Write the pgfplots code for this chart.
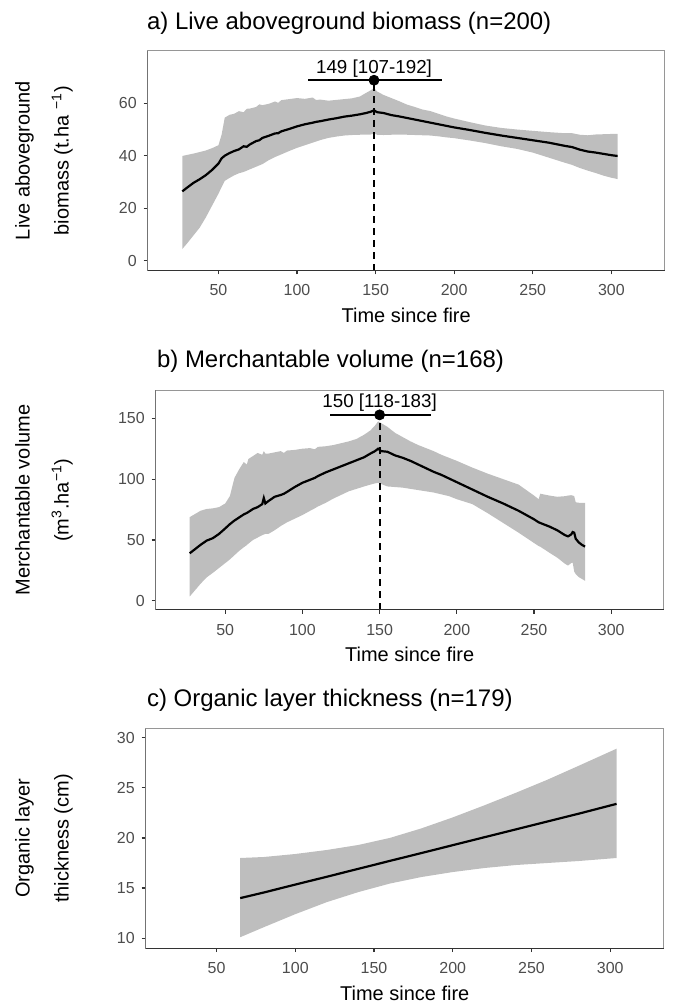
\documentclass[border=0pt]{standalone}
\usepackage{pgfplots}
\pgfplotsset{compat=1.18}
\usepackage{pgfplotstable}
\usepgfplotslibrary{fillbetween}
\usepackage{fontspec}
\setmainfont{Liberation Sans}

\definecolor{band}{RGB}{190,190,190}
\definecolor{tickgrey}{RGB}{77,77,77}
\definecolor{framegrey}{RGB}{150,150,150}
\definecolor{axisdark}{RGB}{51,51,51}

% a) live aboveground biomass: x, lower, mean, upper
\pgfplotstableread{
x lo mid hi
27 4.4 26.4 39.9
30 6.5 27.8 40.3
34 9.5 29.6 40.8
38 12.5 31.0 41.4
42 16.5 32.6 42.0
46 21.0 34.6 42.9
50 25.5 37.0 44.0
52 28.0 39.0 48.0
54 30.4 40.0 54.5
57 31.5 41.0 55.6
60 32.5 41.8 56.0
63 33.3 42.4 57.0
66 33.8 43.6 56.6
68 34.3 43.4 57.9
70 34.8 44.3 58.0
74 35.8 45.6 58.6
76 36.3 45.9 59.6
78 36.8 46.8 59.3
82 38.3 47.6 59.8
86 39.5 48.5 60.7
88 40.0 48.6 60.2
90 40.5 49.3 61.2
95 41.8 50.2 61.6
100 43.0 51.2 62.0
105 44.0 52.0 61.7
110 45.0 52.6 62.2
112 45.4 52.9 61.3
115 46.0 53.2 61.4
120 46.8 53.8 61.0
125 47.3 54.3 61.3
130 47.7 54.9 61.6
135 47.9 55.3 61.9
140 48.0 55.8 62.6
144 48.0 56.3 64.0
147 48.1 56.8 65.0
149 48.5 57.3 65.8
151 48.0 56.6 64.5
155 47.9 56.3 63.2
160 48.0 55.5 62.0
165 48.0 55.0 60.8
170 48.0 54.4 59.5
175 47.9 53.8 58.6
180 47.8 53.2 57.6
185 47.7 52.6 57.0
190 47.4 52.0 56.0
195 47.0 51.4 55.0
200 46.7 50.8 54.2
210 45.8 49.8 52.8
220 44.8 48.7 51.5
230 43.6 47.7 50.6
240 42.6 46.8 50.0
250 41.2 45.9 49.5
260 39.3 45.0 49.0
270 37.4 43.8 48.6
275 36.5 43.3 48.6
280 35.3 42.3 48.0
285 34.3 41.6 47.8
290 33.4 41.2 48.1
295 32.4 40.7 48.2
300 31.6 40.2 48.3
304 31.1 39.9 48.3
}\tabA

% b) merchantable volume
\pgfplotstableread{
x lo mid hi
27 3.6 39.1 68.8
30 8.0 42.0 71.0
34 14.0 46.0 74.0
38 19.3 49.5 75.5
42 23.0 51.5 76.0
46 27.0 55.0 77.0
50 31.0 59.5 80.0
53 34.0 63.0 86.0
56 37.5 66.0 101.0
59 41.0 68.5 108.0
62 44.0 71.0 114.0
64 45.8 72.2 112.0
65 47.0 73.0 116.5
68 50.0 75.5 119.0
71 52.0 77.0 121.5
74 54.0 79.5 120.0
75 54.5 84.5 123.0
76 55.0 80.0 121.0
78 55.0 82.0 121.0
82 58.0 85.5 122.0
86 61.5 87.0 123.0
88 63.0 88.0 121.5
90 64.5 89.5 123.5
95 67.5 93.5 124.0
100 70.5 97.0 125.0
105 74.0 99.5 125.5
108 76.0 101.0 124.5
110 77.5 102.5 126.5
115 80.5 105.5 127.0
120 84.0 108.0 128.0
125 87.0 110.5 129.5
130 90.0 113.0 131.0
135 92.0 115.5 133.0
140 94.0 118.0 136.5
144 95.5 121.0 140.0
147 96.5 123.0 144.0
149 97.0 125.0 147.5
151 96.0 123.0 146.0
155 94.0 122.5 143.0
160 93.5 119.5 138.0
165 93.0 117.5 134.5
170 92.0 115.0 131.0
175 91.0 112.0 128.0
180 90.0 109.0 125.5
185 89.0 106.0 123.0
190 87.5 103.5 120.0
195 86.0 100.5 117.5
200 83.5 97.5 115.0
210 79.5 91.5 109.5
220 72.0 85.5 104.5
230 64.0 80.0 100.0
240 56.0 74.0 95.5
250 47.5 67.0 86.5
253 45.0 64.5 83.5
254 44.5 64.0 88.0
260 39.5 61.0 86.5
265 35.5 58.0 85.5
270 30.5 54.0 86.0
272 29.0 53.0 86.5
274 31.0 54.5 86.8
275 31.5 56.5 86.5
276 24.0 56.0 86.0
277 22.0 51.0 81.0
279 19.5 48.0 80.6
281 18.0 46.0 80.6
283 16.5 44.6 80.6
}\tabB

% c) organic layer thickness
\pgfplotstableread{
x lo mid hi
65 10.1 14.00 18.0
80 11.1 14.56 18.1
100 12.4 15.35 18.4
120 13.6 16.13 18.8
140 14.6 16.92 19.3
160 15.45 17.71 20.0
180 16.1 18.49 20.95
200 16.6 19.28 22.05
220 17.0 20.07 23.25
240 17.3 20.85 24.5
260 17.5 21.64 25.8
280 17.7 22.42 27.2
304 18.0 23.40 28.9
}\tabC

\pgfplotsset{
  panel/.style={
    scale only axis,
    height=110pt,
    anchor=south west,
    xmin=5, xmax=334,
    xtick={50,100,150,200,250,300},
    tick align=outside,
    major tick length=2pt,
    xtick pos=bottom, ytick pos=left,
    axis line style={framegrey, line width=0.5pt},
    every tick/.style={axisdark, line width=0.6pt},
    tick label style={font=\fontsize{8}{9}\selectfont, text=tickgrey},
    xticklabel style={yshift=-1.5pt},
    /pgf/number format/assume math mode=true,
    xlabel={Time since fire},
    xlabel style={font=\fontsize{10}{12}\selectfont, at={(axis description cs:0.5,0)}, anchor=base, yshift=-26pt},
  },
  meanline/.style={black, line width=1.1pt},
}
\tikzset{
  ytitle/.style={rotate=90, align=center, font=\fontsize{10}{19.5}\selectfont},
  ptitle/.style={anchor=base west, inner sep=0pt, font=\fontsize{12}{14}\selectfont},
  optlabel/.style={anchor=base, font=\fontsize{9.4}{11}\selectfont},
}

\begin{document}
\begin{tikzpicture}
\path (0,0) rectangle (338pt,503.5pt);

% ---------- a) ----------
\begin{axis}[panel, at={(74pt,368pt)}, width=259pt, ymin=-3.8, ymax=80, ytick={0,20,40,60}]
\addplot[name path=hiA, draw=none] table[x=x, y=hi] {\tabA};
\addplot[name path=loA, draw=none] table[x=x, y=lo] {\tabA};
\addplot[band, draw=none] fill between[of=hiA and loA];
\addplot[meanline] table[x=x, y=mid] {\tabA};
\addplot[black, line width=1pt, dash pattern=on 3.5pt off 2.5pt] coordinates {(149,-3.8) (149,68.8)};
\addplot[black, line width=1pt] coordinates {(107,68.8) (192,68.8)};
\addplot[only marks, mark=*, mark size=2.5pt, black] coordinates {(149,68.8)};
\node[optlabel] at (axis cs:149,71.5) {149 [107-192]};
\draw[axisdark, line width=0.7pt] (rel axis cs:0,1) -- (rel axis cs:0,0) -- (rel axis cs:1,0);
\end{axis}

% ---------- b) ----------
\begin{axis}[panel, at={(78pt,198pt)}, width=254.5pt, ymin=-7.4, ymax=173, ytick={0,50,100,150}]
\addplot[name path=hiB, draw=none] table[x=x, y=hi] {\tabB};
\addplot[name path=loB, draw=none] table[x=x, y=lo] {\tabB};
\addplot[band, draw=none] fill between[of=hiB and loB];
\addplot[meanline] table[x=x, y=mid] {\tabB};
\addplot[black, line width=1pt, dash pattern=on 3.5pt off 2.5pt] coordinates {(150,-7.4) (150,152.8)};
\addplot[black, line width=1pt] coordinates {(118,152.8) (183,152.8)};
\addplot[only marks, mark=*, mark size=2.5pt, black] coordinates {(150,152.8)};
\node[optlabel] at (axis cs:150,158.5) {150 [118-183]};
\draw[axisdark, line width=0.7pt] (rel axis cs:0,1) -- (rel axis cs:0,0) -- (rel axis cs:1,0);
\end{axis}

% ---------- c) ----------
\begin{axis}[panel, at={(73pt,28.5pt)}, width=259.5pt, ymin=9.0, ymax=30.9, ytick={10,15,20,25,30}]
\addplot[name path=hiC, draw=none] table[x=x, y=hi] {\tabC};
\addplot[name path=loC, draw=none] table[x=x, y=lo] {\tabC};
\addplot[band, draw=none] fill between[of=hiC and loC];
\addplot[meanline] table[x=x, y=mid] {\tabC};
\draw[axisdark, line width=0.7pt] (rel axis cs:0,1) -- (rel axis cs:0,0) -- (rel axis cs:1,0);
\end{axis}

% panel titles
\node[ptitle] at (73.5pt,488.5pt) {a) Live aboveground biomass (n=200)};
\node[ptitle] at (78.5pt,319.5pt) {b) Merchantable volume (n=168)};
\node[ptitle] at (73.5pt,149.5pt) {c) Organic layer thickness (n=179)};

% y axis titles
\node[ytitle] at (22pt,423pt) {Live aboveground\\biomass (t.ha \textsuperscript{−1})};
\node[ytitle] at (22pt,253pt) {Merchantable volume\\(m\textsuperscript{3}.ha\textsuperscript{−1})};
\node[ytitle] at (22pt,83.5pt) {Organic layer\\thickness (cm)};
\end{tikzpicture}
\end{document}
